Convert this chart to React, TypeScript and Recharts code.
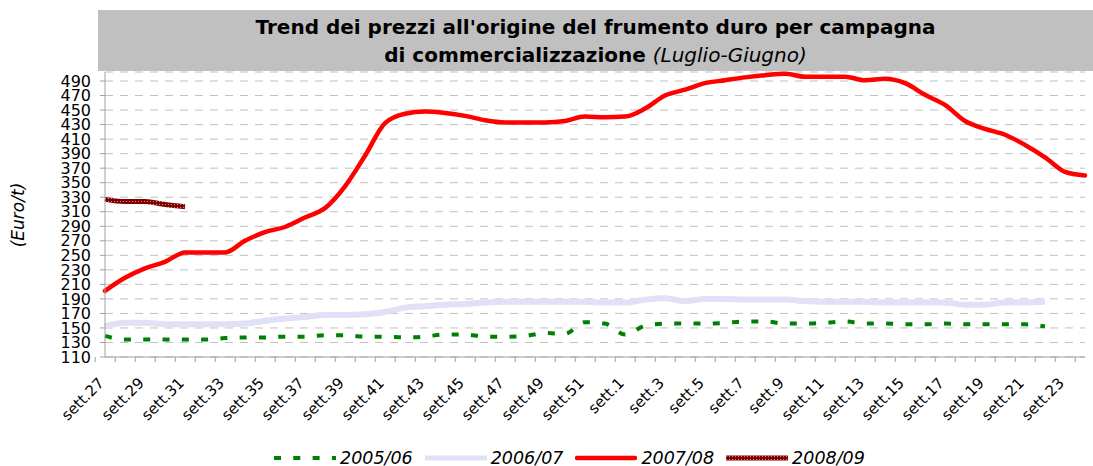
import { LineChart, Line, XAxis, YAxis, CartesianGrid } from "recharts";

const weeks = [
  "sett.27", "sett.28", "sett.29", "sett.30", "sett.31", "sett.32", "sett.33", "sett.34",
  "sett.35", "sett.36", "sett.37", "sett.38", "sett.39", "sett.40", "sett.41", "sett.42",
  "sett.43", "sett.44", "sett.45", "sett.46", "sett.47", "sett.48", "sett.49", "sett.50",
  "sett.51", "sett.52", "sett.1", "sett.2", "sett.3", "sett.4", "sett.5", "sett.6",
  "sett.7", "sett.8", "sett.9", "sett.10", "sett.11", "sett.12", "sett.13", "sett.14",
  "sett.15", "sett.16", "sett.17", "sett.18", "sett.19", "sett.20", "sett.21", "sett.22",
  "sett.23", "sett.24",
];

const yTicks = [110, 130, 150, 170, 190, 210, 230, 250, 270, 290, 310, 330, 350, 370, 390, 410, 430, 450, 470, 490];

// Euro/t per settimana
const prices0506 = [
  139, 134, 134, 134, 134, 134, 136, 137, 137, 138, 138, 140, 140, 138, 138, 137,
  138, 141, 141, 138, 138, 139, 143, 142, 158, 156, 141, 153, 156, 156, 156, 157,
  159, 159, 156, 156, 157, 159, 156, 156, 155, 155, 156, 155, 155, 155, 155, 152,
];
const prices0607 = [
  152, 157, 157, 155, 155, 155, 155, 156, 160, 163, 165, 168, 168, 169, 172, 178,
  180, 182, 183, 185, 186, 186, 186, 186, 186, 185, 185, 189, 191, 187, 190, 190,
  189, 189, 189, 187, 186, 186, 186, 185, 185, 185, 185, 182, 182, 185, 185, 186,
];
const prices0708 = [
  201, 219, 232, 241, 254, 254, 254, 270, 282, 289, 302, 315, 345, 387, 432, 445,
  448, 446, 442, 436, 433, 433, 433, 435, 441, 440, 441, 452, 470, 478, 487, 491,
  495, 498, 500, 496, 496, 496, 491, 493, 487, 471, 457, 435, 424, 416, 402, 385,
  365, 360,
];
const prices0809 = [327, 324, 324, 320, 317];

const data = weeks.map((week, i) => ({
  week,
  c0506: prices0506[i] ?? null,
  c0607: prices0607[i] ?? null,
  c0708: prices0708[i] ?? null,
  c0809: prices0809[i] ?? null,
}));

const W = 1093;
const H = 466;
const LEFT = 105;
const RIGHT = 8;
const TOP = 72;
const BOTTOM = 109;
const FONT = "'DejaVu Sans', Verdana, sans-serif";
const band = (W - LEFT - RIGHT) / weeks.length;

function WeekTick(props: any) {
  const { x, y, index, payload } = props;
  const bx = x - band / 2;
  return (
    <g>
      <line x1={bx} y1={y} x2={bx} y2={y + 5} stroke="#a0a0a0" />
      {index === weeks.length - 1 && (
        <line x1={x + band / 2} y1={y} x2={x + band / 2} y2={y + 5} stroke="#a0a0a0" />
      )}
      {index % 2 === 0 && (
        <text
          x={x}
          y={y + 27}
          textAnchor="end"
          fontSize={15}
          fontFamily={FONT}
          fill="#000"
          transform={`rotate(-45 ${x} ${y + 27})`}
        >
          {payload.value}
        </text>
      )}
    </g>
  );
}

function Sample({ kind }: { kind: string }) {
  return (
    <svg width={62} height={10} style={{ display: "block" }}>
      <defs>
        <pattern id="legPat" width="3" height="3" patternUnits="userSpaceOnUse">
          <rect width="3" height="3" fill="#800000" />
          <rect width="1" height="1" fill="#d08a8a" />
        </pattern>
      </defs>
      {kind === "a" && <line x1={0} y1={5} x2={62} y2={5} stroke="#008000" strokeWidth={4} strokeDasharray="7 12.3" />}
      {kind === "b" && <line x1={0} y1={5} x2={62} y2={5} stroke="#e0e0f8" strokeWidth={5} />}
      {kind === "c" && <line x1={2} y1={5} x2={60} y2={5} stroke="#ff0000" strokeWidth={4.5} strokeLinecap="round" />}
      {kind === "d" && <rect x={0} y={2.5} width={62} height={5} fill="url(#legPat)" />}
    </svg>
  );
}

const legendItems = [
  { kind: "a", label: "2005/06" },
  { kind: "b", label: "2006/07" },
  { kind: "c", label: "2007/08" },
  { kind: "d", label: "2008/09" },
];

export default function App() {
  return (
    <div style={{ position: "absolute", left: 0, top: 0, width: W, height: H, background: "#fff", fontFamily: FONT }}>
      <div
        style={{
          position: "absolute",
          left: 98,
          top: 10,
          width: W - 98,
          height: 61,
          background: "#c0c0c0",
          textAlign: "center",
          fontSize: 20,
          lineHeight: "28px",
          paddingTop: 3,
          boxSizing: "border-box",
          fontWeight: "bold",
          color: "#000",
          zIndex: 2,
          whiteSpace: "nowrap",
        }}
      >
        Trend dei prezzi all'origine del frumento duro per campagna
        <br />
        di commercializzazione <span style={{ fontWeight: "normal", fontStyle: "italic" }}>(Luglio-Giugno)</span>
      </div>

      <div
        style={{
          position: "absolute",
          left: 18,
          top: 215,
          transform: "translate(-50%, -50%) rotate(-90deg)",
          fontSize: 17,
          fontStyle: "italic",
          whiteSpace: "nowrap",
          color: "#000",
        }}
      >
        (Euro/t)
      </div>

      <LineChart width={W} height={H} data={data} margin={{ top: TOP, right: RIGHT, left: 0, bottom: 0 }}>
        <defs>
          <pattern id="darkPat" width="3" height="3" patternUnits="userSpaceOnUse">
            <rect width="3" height="3" fill="#800000" />
            <rect width="1" height="1" fill="#d08a8a" />
          </pattern>
        </defs>
        <CartesianGrid vertical={false} stroke="#c0c0c0" strokeDasharray="8 7" />
        <XAxis
          dataKey="week"
          interval={0}
          height={BOTTOM}
          tickSize={0}
          tickMargin={0}
          tickLine={false}
          axisLine={{ stroke: "#a0a0a0" }}
          tick={<WeekTick />}
        />
        <YAxis
          type="number"
          domain={[110, 502.4]}
          ticks={yTicks}
          interval={0}
          width={LEFT}
          tickSize={5}
          tickMargin={9}
          axisLine={{ stroke: "#a0a0a0" }}
          tickLine={{ stroke: "#a0a0a0" }}
          tick={{ fontSize: 16, fill: "#000", fontFamily: FONT }}
        />
        <Line type="monotone" dataKey="c0506" stroke="#008000" strokeWidth={4} strokeDasharray="7 12.3" dot={false} activeDot={false} isAnimationActive={false} />
        <Line type="monotone" dataKey="c0607" stroke="#e0e0f8" strokeWidth={6} dot={false} activeDot={false} isAnimationActive={false} />
        <Line type="monotone" dataKey="c0708" stroke="#ff0000" strokeWidth={4.5} strokeLinecap="round" dot={false} activeDot={false} isAnimationActive={false} />
        <Line type="monotone" dataKey="c0809" stroke="url(#darkPat)" strokeWidth={5} dot={false} activeDot={false} isAnimationActive={false} />
      </LineChart>

      <div style={{ position: "absolute", left: 274, top: 447, display: "flex", alignItems: "center", fontSize: 17.5, fontStyle: "italic", color: "#000" }}>
        {legendItems.map((it) => (
          <div key={it.label} style={{ display: "flex", alignItems: "center", marginRight: 12 }}>
            <Sample kind={it.kind} />
            <span style={{ marginLeft: 4, lineHeight: "22px" }}>{it.label}</span>
          </div>
        ))}
      </div>
    </div>
  );
}
